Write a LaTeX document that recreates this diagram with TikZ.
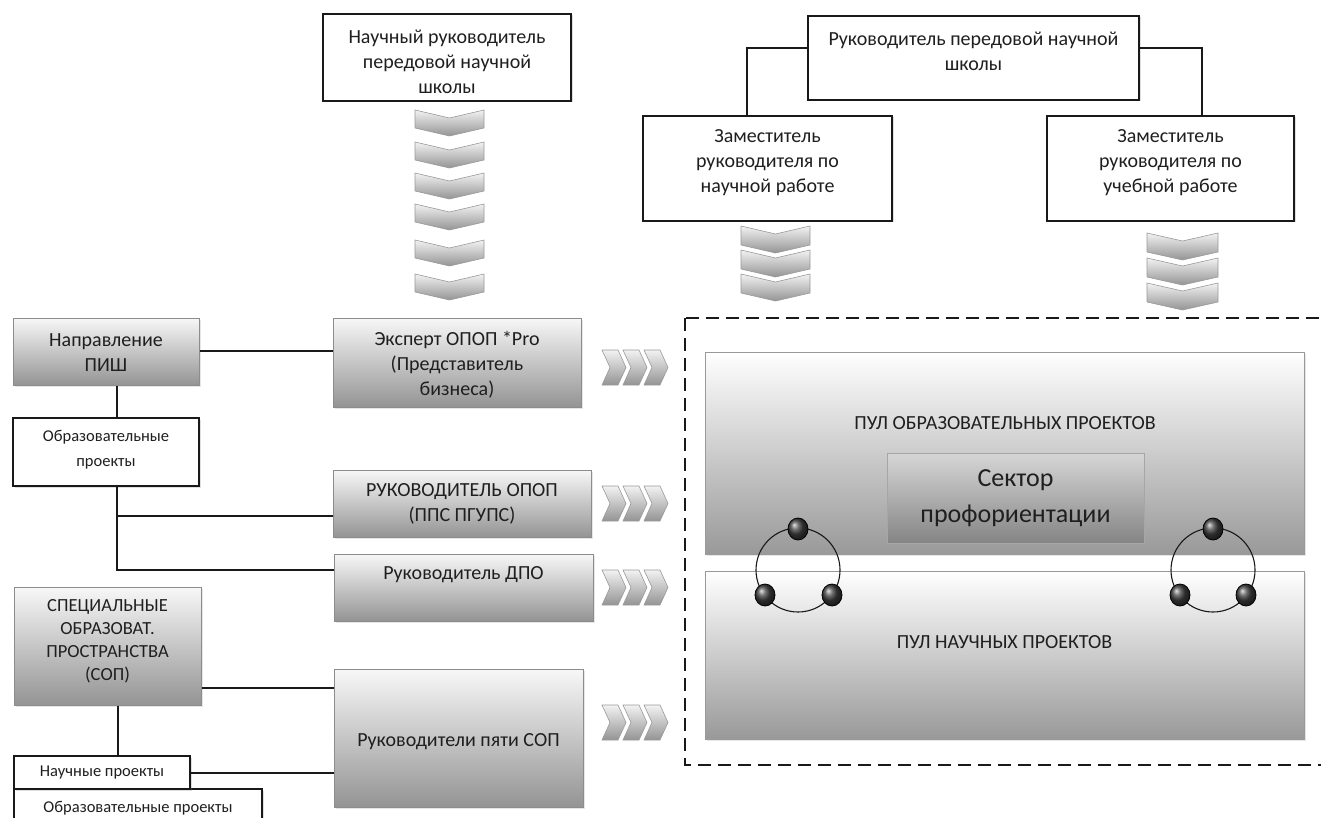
\documentclass[tikz,border=0pt]{standalone}
\usepackage{fontspec}
\setmainfont{Carlito}
\usetikzlibrary{shadows}
\newcommand{\chevD}[4]{\path[chev] (#1,#3) -- ({(#1+#2)/2},{#3+8}) -- (#2,#3) -- (#2,{#3+#4}) -- ({(#1+#2)/2},{#3+#4+8}) -- (#1,{#3+#4}) -- cycle;}
\newcommand{\chevR}[2]{\path[chev] (#1,#2) -- ({#1+16},#2) -- ({#1+24},{#2+17.5}) -- ({#1+16},{#2+35}) -- (#1,{#2+35}) -- ({#1+8},{#2+17.5}) -- cycle;}
\tikzset{
  sz/.style 2 args={minimum width=#1pt, minimum height=#2pt},
  base/.style={font=\fontsize{20}{25}\selectfont, text=black!88, align=center, inner sep=0pt},
  smalltxt/.style={base, font=\fontsize{16.5}{25}\selectfont},
  wbox/.style={draw=black!90, line width=1.4pt, fill=white, inner sep=0pt,
    drop shadow={shadow xshift=1.5pt, shadow yshift=-1.5pt, opacity=0.25}},
  gbox/.style={draw=black!45, line width=1pt, top color=black!3, bottom color=black!42, inner sep=0pt,
    drop shadow={shadow xshift=1.5pt, shadow yshift=-1.5pt, opacity=0.2}},
  pbox/.style={draw=black!40, line width=1pt, top color=white, bottom color=black!40, inner sep=0pt,
    drop shadow={shadow xshift=1.5pt, shadow yshift=-1.5pt, opacity=0.2}},
  sbox/.style={draw=black!35, line width=1pt, top color=black!16, bottom color=black!48, inner sep=0pt},
  conn/.style={draw=black!90, line width=1.4pt},
  chev/.style={draw=black!40, line width=0.6pt, top color=black!5, bottom color=black!42},
  dashbox/.style={draw=black!90, line width=1.8pt, dash pattern=on 13pt off 7pt},
  ring/.style={draw=black!90, line width=1.1pt},
  dot/.style={draw=black, line width=0.8pt, ball color=black!75},
}
\begin{document}
\begin{tikzpicture}[x=1pt, y=-1pt]
\useasboundingbox (0,0) rectangle (1321,818);

% ---- top area ----
\node[wbox, sz={248}{87}] (nr) at (447,57.5) {};
\node[base] (nrT) at (447,62) {Научный руководитель\\передовой научной\\школы};

\node[wbox, sz={331}{84}] (rps) at (973.5,58) {};
\node[base] (rpsT) at (973.5,51.5) {Руководитель передовой научной\\школы};

\node[wbox, sz={249}{105}] (zamN) at (767.5,168.5) {};
\node[base] (zamNT) at (767.5,163) {Заместитель\\руководителя по\\научной работе};

\node[wbox, sz={247}{105}] (zamU) at (1170.5,168.5) {};
\node[base] (zamUT) at (1170.5,163) {Заместитель\\руководителя по\\учебной работе};

\coordinate (t1) at (747,48);
\coordinate (t2) at (1202,48);
\draw[conn] (t1 -| rps.west) -- (t1) -- (t1 |- zamN.north);
\draw[conn] (t2 -| rps.east) -- (t2) -- (t2 |- zamU.north);

% down chevrons
\foreach \yt in {110,142,173,204,240,274} {\chevD{415}{484}{\yt}{18}}
\foreach \yt in {226,250,274} {\chevD{741}{810}{\yt}{19}}
\foreach \yt in {233,258,283} {\chevD{1147}{1218}{\yt}{19}}

% ---- left column ----
\node[gbox, sz={186}{67}] (pish) at (106,351.5) {};
\node[base] (pishT) at (106,352.5) {Направление\\ПИШ};

\node[wbox, sz={186}{68}] (obr1) at (106,452) {};
\node[smalltxt] (obr1T) at (106,449.5) {Образовательные\\проекты};

\node[gbox, sz={187}{118}] (sop) at (107.5,646) {};
\node[base, font=\fontsize{18.5}{23}\selectfont] (sopT) at (107.5,641) {СПЕЦИАЛЬНЫЕ\\ОБРАЗОВАТ.\\ПРОСТРАНСТВА\\(СОП)};

\node[wbox, sz={248}{40}] (obr2) at (138,809) {};
\node[smalltxt] (obr2T) at (138,808) {Образовательные проекты};

\node[wbox, sz={176}{33}] (nauch) at (102,772.5) {};
\node[smalltxt] (nauchT) at (102,773) {Научные проекты};

% ---- middle column ----
\node[gbox, sz={248}{89}] (eks) at (457,362.5) {};
\node[base] (eksT) at (457,365) {Эксперт ОПОП *Pro\\(Представитель\\бизнеса)};

\node[gbox, sz={258}{67}] (ruk) at (462,503.5) {};
\node[base] (rukT) at (462,503.5) {РУКОВОДИТЕЛЬ ОПОП\\(ППС ПГУПС)};

\node[gbox, sz={259}{67}] (dpo) at (463.5,587.5) {};
\node[base] (dpoT) at (463.5,575) {Руководитель ДПО};

\node[gbox, sz={249}{138}] (five) at (458.5,738) {};
\node[base] (fiveT) at (458.5,742) {Руководители пяти СОП};

% connectors left
\coordinate (p1) at (117,351);
\draw[conn] (p1 -| pish.east) -- (p1 -| eks.west);
\draw[conn] (p1 |- pish.south) -- (p1 |- obr1.north);
\coordinate (j1) at (117,516);
\coordinate (j2) at (117,570);
\draw[conn] (j1 |- obr1.south) -- (j2) -- (j2 -| dpo.west);
\draw[conn] (j1) -- (j1 -| ruk.west);
\coordinate (s1) at (118,688);
\coordinate (s2) at (118,773);
\draw[conn] (s1 -| sop.east) -- (s1 -| five.west);
\draw[conn] (s1 |- sop.south) -- (s1 |- nauch.north);
\draw[conn] (s2 -| nauch.east) -- (s2 -| five.west);

% right chevrons
\foreach \yt in {350,486,570,705} {
  \foreach \xl in {602,623,644} {\chevR{\xl}{\yt}}
}

% ---- right area ----
\draw[dashbox] (685,318) rectangle (1335,765);

\node[pbox, sz={599}{202}] (poolE) at (1004.5,453) {};
\node[base] (poolET) at (1005,423) {ПУЛ ОБРАЗОВАТЕЛЬНЫХ ПРОЕКТОВ};

\node[pbox, sz={599}{168}] (poolN) at (1004.5,655) {};
\node[base] (poolNT) at (1004.5,642) {ПУЛ НАУЧНЫХ ПРОЕКТОВ};

\node[sbox, sz={257}{90}] (sect) at (1015.5,498) {};
\node[base, font=\fontsize{26}{36}\selectfont] (sectT) at (1015.5,498) {Сектор\\профориентации};

% rings
\draw[ring] (798,570) circle[radius=42pt];
\path[dot] (798,529) ellipse[x radius=10pt, y radius=11pt];
\path[dot] (765,595) ellipse[x radius=10pt, y radius=11pt];
\path[dot] (832,595) ellipse[x radius=10pt, y radius=11pt];

\draw[ring] (1213,570) circle[radius=42pt];
\path[dot] (1213,529) ellipse[x radius=10pt, y radius=11pt];
\path[dot] (1180,595) ellipse[x radius=10pt, y radius=11pt];
\path[dot] (1246,595) ellipse[x radius=10pt, y radius=11pt];
\end{tikzpicture}
\end{document}
